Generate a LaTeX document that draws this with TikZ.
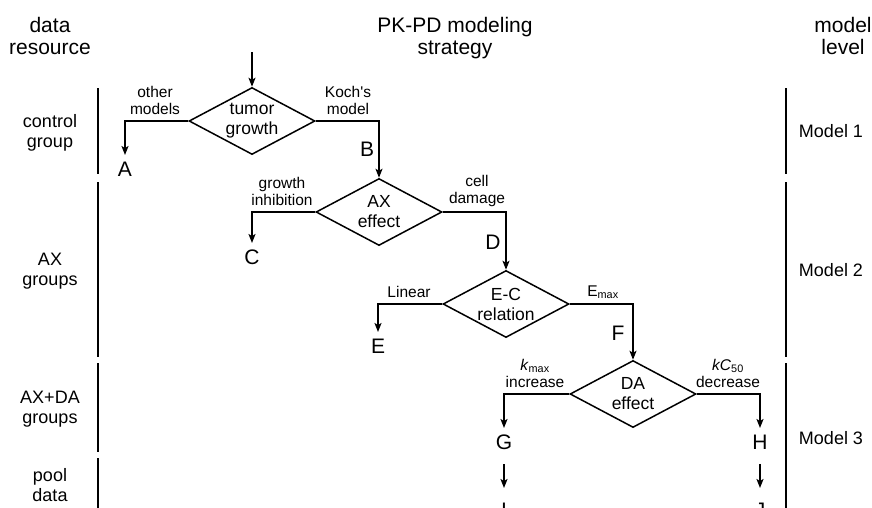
\documentclass[tikz,border=0pt]{standalone}
\usepackage{fontspec}
\setmainfont{Liberation Sans}
\usetikzlibrary{shapes.geometric,arrows.meta}
\begin{document}
\begin{tikzpicture}[x=1pt,y=-1pt,
  every node/.style={inner sep=0pt},
  dia/.style={diamond,draw,line width=1.5pt,minimum width=126pt,minimum height=67pt,inner sep=-6pt,align=center,font=\fontsize{17.5}{20}\selectfont},
  arr/.style={line width=1.5pt,-{Stealth[length=9pt,width=7pt,inset=2pt]}},
  bar/.style={line width=1.5pt},
  letter/.style={font=\fontsize{21}{24}\selectfont,inner xsep=0pt,inner ysep=7pt},
  side/.style={font=\fontsize{21}{24}\selectfont},
  brl/.style={align=center,font=\fontsize{15.5}{17}\selectfont},
  head/.style={align=center,anchor=north,font=\fontsize{21}{22}\selectfont},
  grp/.style={align=center,font=\fontsize{18}{20}\selectfont},
]
\useasboundingbox (0,0) rectangle (872,507);

% headers
\node[head] (h1) at (50,17) {data\\resource};
\node[head] (h2) at (455,17) {PK-PD modeling\\strategy};
\node[head] (h3) at (843,17) {model\\level};

% left group labels and bars
\node[grp] (g1) at (50,133) {control\\group};
\node[grp] (g2) at (50,271) {AX\\groups};
\node[grp] (g3) at (50,409) {AX+DA\\groups};
\node[grp] (g4) at (50,485) {pool\\data};
\draw[bar] (98,88) -- (98,174);
\draw[bar] (98,182) -- (98,357);
\draw[bar] (98,363) -- (98,452);
\draw[bar] (98,458) -- (98,520);

% right model labels and bars
\node[grp] (m1) at (831,131) {Model 1};
\node[grp] (m2) at (831,270) {Model 2};
\node[grp] (m3) at (831,438) {Model 3};
\draw[bar] (786,88) -- (786,174);
\draw[bar] (786,182) -- (786,357);
\draw[bar] (786,363) -- (786,520);

% diamonds
\node[dia] (d1) at (252,121) {tumor\\growth};
\node[dia] (d2) at (379,212) {AX\\effect};
\node[dia] (d3) at (506,304) {E-C\\relation};
\node[dia] (d4) at (633,394) {DA\\effect};

\coordinate (start) at (252,52);
\draw[arr] (start) -- (d1.north);

% end letters
\node[letter,anchor=north] (A) at (125,155) {A};
\node[letter,anchor=north] (C) at (252,243) {C};
\node[letter,anchor=north] (E) at (378,332) {E};
\node[letter,anchor=north] (G) at (504,428) {G};
\node[letter,anchor=north] (H) at (760,428) {H};
\node[letter,anchor=north] (I) at (504,496) {I};
\node[letter,anchor=north] (J) at (760,496) {J};

% side letters
\node[side] (B) at (367,149) {B};
\node[side] (D) at (493,242) {D};
\node[side] (F) at (618,333) {F};

% branches
\draw[arr] (d1.west) -| (A.north);
\draw[arr] (d1.east) -| (d2.north);
\draw[arr] (d2.west) -| (C.north);
\draw[arr] (d2.east) -| (d3.north);
\draw[arr] (d3.west) -| (E.north);
\draw[arr] (d3.east) -| (d4.north);
\draw[arr] (d4.west) -| (G.north);
\draw[arr] (d4.east) -| (H.north);
\draw[arr,shorten <=7pt,shorten >=8pt] (G.south) -- (I.north);
\draw[arr,shorten <=7pt,shorten >=8pt] (H.south) -- (J.north);

% branch labels
\node[brl] (l1) at (155,100) {other\\models};
\node[brl] (l2) at (348,100) {Koch\textquotesingle s\\model};
\node[brl] (l3) at (282,191) {growth\\inhibition};
\node[brl] (l4) at (477,191) {cell\\damage};
\node[brl] (l5) at (409,292) {Linear};
\node[brl] (l6) at (603,292) {E\textsubscript{max}};
\node[brl] (l7) at (535,373) {\textit{k}\textsubscript{max}\\increase};
\node[brl] (l8) at (728,373) {\textit{kC}\textsubscript{50}\\decrease};
\end{tikzpicture}
\end{document}
